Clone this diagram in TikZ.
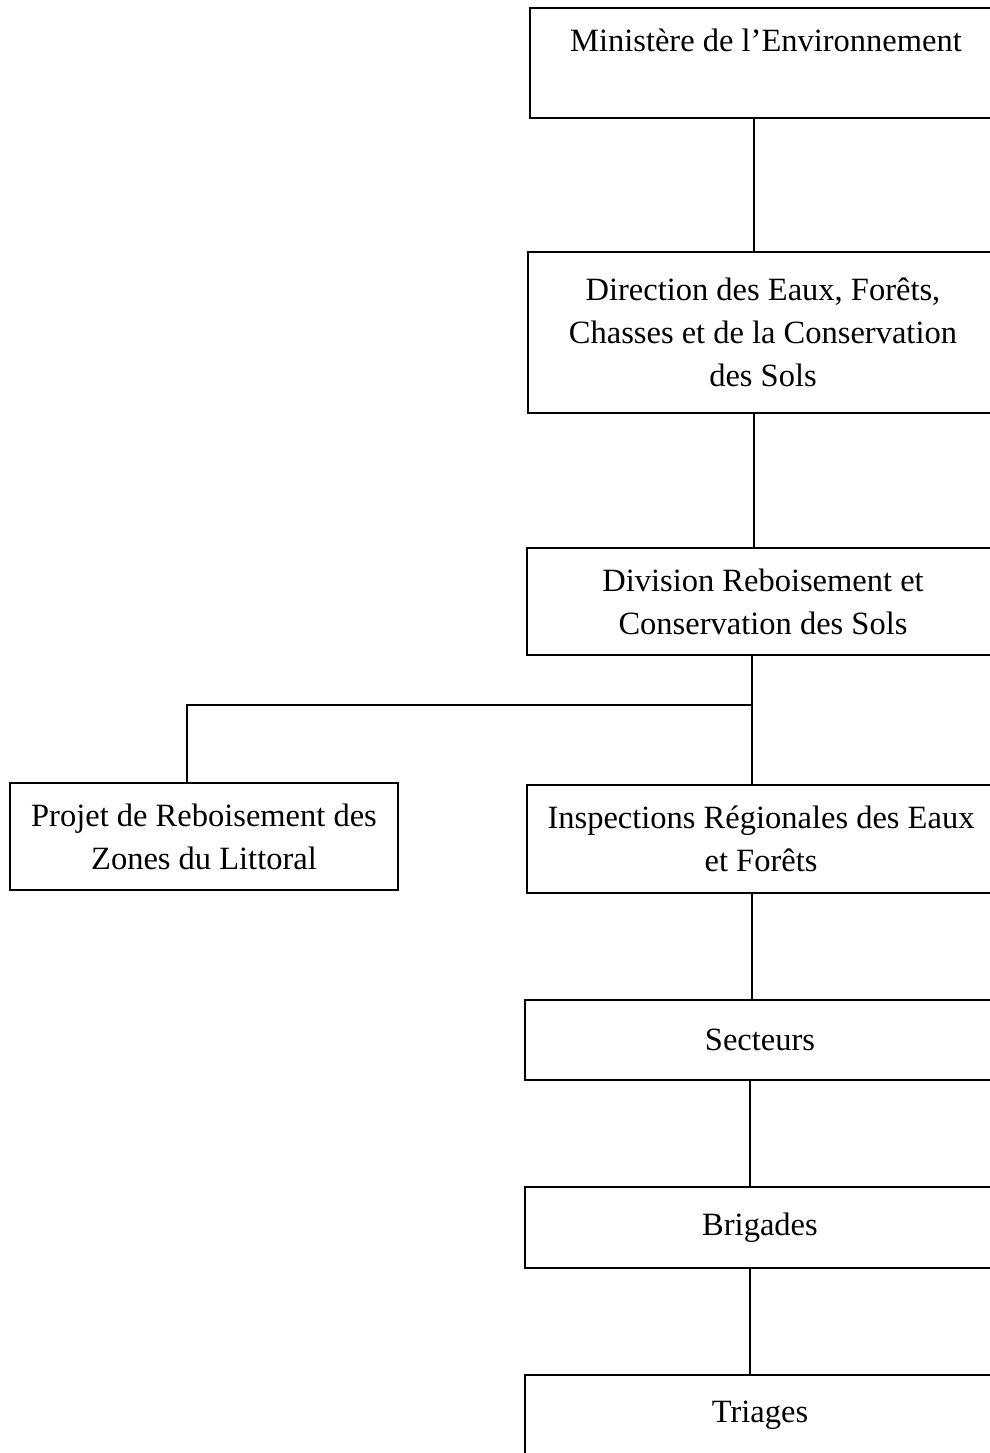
\documentclass[tikz,border=0pt]{standalone}
\usepackage{fontspec}
\setmainfont{Liberation Serif}
\begin{document}
\begin{tikzpicture}[x=1pt,y=-1pt,
  orgbox/.style={draw=black, line width=1.8pt, rectangle, inner sep=0pt, align=center,
    font=\fontsize{32.5}{43}\selectfont},
  link/.style={draw=black, line width=1.8pt}]
\useasboundingbox (0,0) rectangle (990,1453);
\clip (0,0) rectangle (990,1453);
\fill[white] (0,0) rectangle (990,1453);
\node[orgbox, minimum width=472pt, minimum height=110pt] (m) at (766,63) {Ministère de l’Environnement\\[2pt] \mbox{}};
\node[orgbox, minimum width=470pt, minimum height=161pt] (d) at (763,332.5) {Direction des Eaux, Forêts,\\ Chasses et de la Conservation\\ des Sols};
\node[orgbox, minimum width=472pt, minimum height=107pt] (v) at (763,601.5) {Division Reboisement et\\ Conservation des Sols};
\node[orgbox, minimum width=388pt, minimum height=107pt] (p) at (204,836.5) {Projet de Reboisement des\\ Zones du Littoral};
\node[orgbox, minimum width=468pt, minimum height=108pt] (i) at (761,839) {Inspections Régionales des Eaux\\ et Forêts};
\node[orgbox, minimum width=470pt, minimum height=80pt] (s) at (760,1040) {Secteurs};
\node[orgbox, minimum width=470pt, minimum height=81pt] (b) at (760,1227.5) {Brigades};
\node[orgbox, minimum width=470pt, minimum height=81pt] (t) at (760,1415.5) {Triages};
\coordinate (c1) at (754,0);
\coordinate (c2) at (752,0);
\coordinate (c3) at (750,0);
\coordinate (cl) at (187,0);
\coordinate (jr) at (752,705);
\coordinate (jl) at (187,705);
\draw[link] (m.south -| c1) -- (d.north -| c1);
\draw[link] (d.south -| c1) -- (v.north -| c1);
\draw[link] (v.south -| c2) -- (i.north -| c2);
\draw[link] (jr) -- (jl) -- (p.north -| cl);
\draw[link] (i.south -| c2) -- (s.north -| c2);
\draw[link] (s.south -| c3) -- (b.north -| c3);
\draw[link] (b.south -| c3) -- (t.north -| c3);
\end{tikzpicture}
\end{document}
